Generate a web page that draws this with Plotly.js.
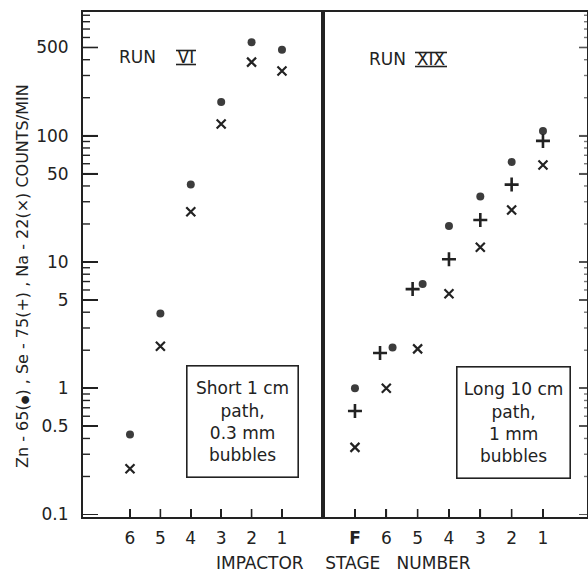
<!DOCTYPE html>
<html>
<head>
<meta charset="utf-8">
<script src="https://cdn.plot.ly/plotly-3.0.1.min.js"></script>
<style>html,body{margin:0;padding:0;background:#fff;}#chart{width:588px;height:573px;}</style>
</head>
<body>
<div id="chart"></div>
<script>
// ---- data ----
const stagesVI = ["6", "5", "4", "3", "2", "1"];
const znVI = [0.43, 3.9, 41, 185, 550, 480];      // Zn-65 (dots)
const naVI = [0.23, 2.15, 25, 124, 383, 326];     // Na-22 (x)

const stagesXIX = ["F", "6", "5", "4", "3", "2", "1"];
const znXIX = [1.0, 2.1, 6.7, 19.3, 33, 62, 109];   // Zn-65 (dots)
const seXIX = [0.66, 1.9, 6.1, 10.5, 21.5, 41, 91]; // Se-75 (+)
const naXIX = [0.34, 1.0, 2.05, 5.6, 13.1, 25.8, 58.6]; // Na-22 (x)

const yMajor = [0.1, 0.5, 1, 5, 10, 50, 100, 500];
const yMajorText = ["0.1", "0.5", "1", "5", "10", "50", "100", "500"];
const yMinor = [0.2,0.3,0.4,0.6,0.7,0.8,0.9,2,3,4,6,7,8,9,20,30,40,60,70,80,90,200,300,400,600,700,800,900];

// ---- styling ----
const ink = "#222";
const dotColor = "#3c3c3c";
const FONT = "DejaVu Sans";

const posVI = stagesVI.map((s, i) => i + 1);
const posXIX = stagesXIX.map((s, i) => i);
// side-by-side separation used in the original where + and dot would overlap
const sep = {"6": 0.2, "5": 0.16};
const posXIXse = stagesXIX.map((s, i) => i - (sep[s] || 0));
const posXIXzn = stagesXIX.map((s, i) => i + (sep[s] || 0));

const dotM = {symbol: "circle", size: 8, color: dotColor, line: {width: 0}};
const xM = {symbol: "x-thin", size: 9, line: {width: 2.2, color: ink}};
const pM = {symbol: "cross-thin", size: 10, line: {width: 2.6, color: ink}};

const traces = [
  {x: posVI, y: znVI, mode: "markers", marker: dotM, xaxis: "x", yaxis: "y", name: "Zn-65"},
  {x: posVI, y: naVI, mode: "markers", marker: xM, xaxis: "x", yaxis: "y", name: "Na-22"},
  {x: posXIXzn, y: znXIX, mode: "markers", marker: dotM, xaxis: "x2", yaxis: "y2", name: "Zn-65"},
  {x: posXIXse, y: seXIX, mode: "markers", marker: pM, xaxis: "x2", yaxis: "y2", name: "Se-75"},
  {x: posXIX, y: naXIX, mode: "markers", marker: xM, xaxis: "x2", yaxis: "y2", name: "Na-22"}
];

const yRange = [-1.02, 2.98];
const tickFont = {family: FONT, size: 17, color: ink};

const yBase = {
  type: "log", range: yRange, showgrid: false, zeroline: false,
  showline: true, linecolor: ink, linewidth: 2, mirror: true,
  ticks: "inside", tickmode: "array", tickvals: yMajor, ticktext: yMajorText,
  ticklen: 15, tickwidth: 1.6, tickcolor: ink,
  tickfont: tickFont, ticklabelstandoff: 9
};
const xBase = {
  showgrid: false, zeroline: false, showline: true, linecolor: ink, linewidth: 2, mirror: true,
  ticks: "inside", ticklen: 8, tickwidth: 1.6, tickcolor: ink,
  tickmode: "array", tickfont: tickFont, ticklabelstandoff: 5
};

// pixel -> paper helpers for text placement
const PX = px => (px - 83) / 504;
const PY = py => (517 - py) / 505;

const bar = (x0, x1, y) => ({type: "line", xref: "paper", yref: "paper",
  x0: PX(x0), x1: PX(x1), y0: PY(y), y1: PY(y), line: {color: ink, width: 1.6}});

// tick marks drawn on the axes' own scales
const yTick = (xref, v, a, b, color, w) => ({type: "line", xref: xref, yref: xref === "x domain" ? "y" : "y2",
  x0: a, x1: b, y0: v, y1: v, line: {color: color, width: w}});
const xTick = (xref, p) => ({type: "line", xref: xref, yref: "paper",
  x0: p, x1: p, y0: 0, y1: 8/505, line: {color: ink, width: 1.6}});

const tickShapes = [].concat(
  yMajor.slice(1).map(v => yTick("x domain", v, 0, 15/240, ink, 1.6)),
  yMinor.map(v => yTick("x domain", v, 0, 7/240, ink, 1.4)),
  yMajor.slice(1).map(v => yTick("x2 domain", v, 1, 1 - 8/264, "#555", 1.6)),
  yMinor.map(v => yTick("x2 domain", v, 1, 1 - 3/264, "#777", 1.4)),
  posVI.map(p => xTick("x", p)),
  posXIX.map(p => xTick("x2", p))
);

const layout = {
  width: 588, height: 573,
  margin: {l: 83, r: 1, t: 12, b: 56},
  paper_bgcolor: "#fff", plot_bgcolor: "#fff",
  showlegend: false,
  font: {family: FONT, color: ink},
  xaxis: Object.assign({}, xBase, {
    domain: [0, 240/504], anchor: "y", range: [-0.546, 7.35],
    tickvals: posVI, ticktext: stagesVI
  }),
  xaxis2: Object.assign({}, xBase, {
    domain: [240/504, 1], anchor: "y2", range: [-1.02, 7.405],
    tickvals: posXIX, ticktext: stagesXIX.map(s => s === "F" ? "<b>F</b>" : s)
  }),
  yaxis: Object.assign({}, yBase, {domain: [0, 1], anchor: "x", side: "left"}),
  yaxis2: Object.assign({}, yBase, {
    domain: [0, 1], anchor: "x2", side: "right", showticklabels: false,
    ticklen: 8, tickcolor: "#555"
  }),
  shapes: [
    bar(176, 196, 50.5), bar(176, 196, 64.5),
    bar(415, 447, 52.5), bar(415, 447, 66.5)
  ].concat(tickShapes),
  annotations: [
    {xref: "paper", yref: "paper", x: PX(22), y: PY(276), xanchor: "center", yanchor: "middle",
     textangle: -90, showarrow: false,
     text: "Zn - 65(<span style='font-size:10px'>●</span>) , Se - 75(+) , Na - 22(×) COUNTS/MIN",
     font: {family: FONT, size: 16, color: ink}},
    {xref: "paper", yref: "paper", x: PX(343), y: PY(563), xanchor: "center", yanchor: "middle",
     showarrow: false, text: "IMPACTOR\u00a0\u00a0\u00a0\u00a0STAGE\u00a0\u00a0\u00a0NUMBER",
     font: {family: FONT, size: 17, color: ink}},
    {xref: "paper", yref: "paper", x: PX(117), y: PY(57.5), xanchor: "left", yanchor: "middle",
     showarrow: false, text: "RUN\u00a0\u00a0\u00a0\u00a0VI",
     font: {family: FONT, size: 17, color: ink}},
    {xref: "paper", yref: "paper", x: PX(367), y: PY(59.5), xanchor: "left", yanchor: "middle",
     showarrow: false, text: "RUN\u00a0\u00a0XIX",
     font: {family: FONT, size: 17, color: ink}},
    {xref: "paper", yref: "paper", x: PX(242.5), y: PY(421.5), xanchor: "center", yanchor: "middle",
     showarrow: false, width: 104, height: 104, borderpad: 3, bordercolor: ink, borderwidth: 1.6,
     align: "center", valign: "middle", bgcolor: "#fff",
     text: "Short 1 cm<br>path,<br>0.3 mm<br>bubbles",
     font: {family: FONT, size: 17, color: ink}},
    {xref: "paper", yref: "paper", x: PX(513.5), y: PY(422.5), xanchor: "center", yanchor: "middle",
     showarrow: false, width: 106, height: 104, borderpad: 3, bordercolor: ink, borderwidth: 1.6,
     align: "center", valign: "middle", bgcolor: "#fff",
     text: "Long 10 cm<br>path,<br>1 mm<br>bubbles",
     font: {family: FONT, size: 17, color: ink}}
  ]
};

Plotly.newPlot("chart", traces, layout, {staticPlot: true});
</script>
</body>
</html>
